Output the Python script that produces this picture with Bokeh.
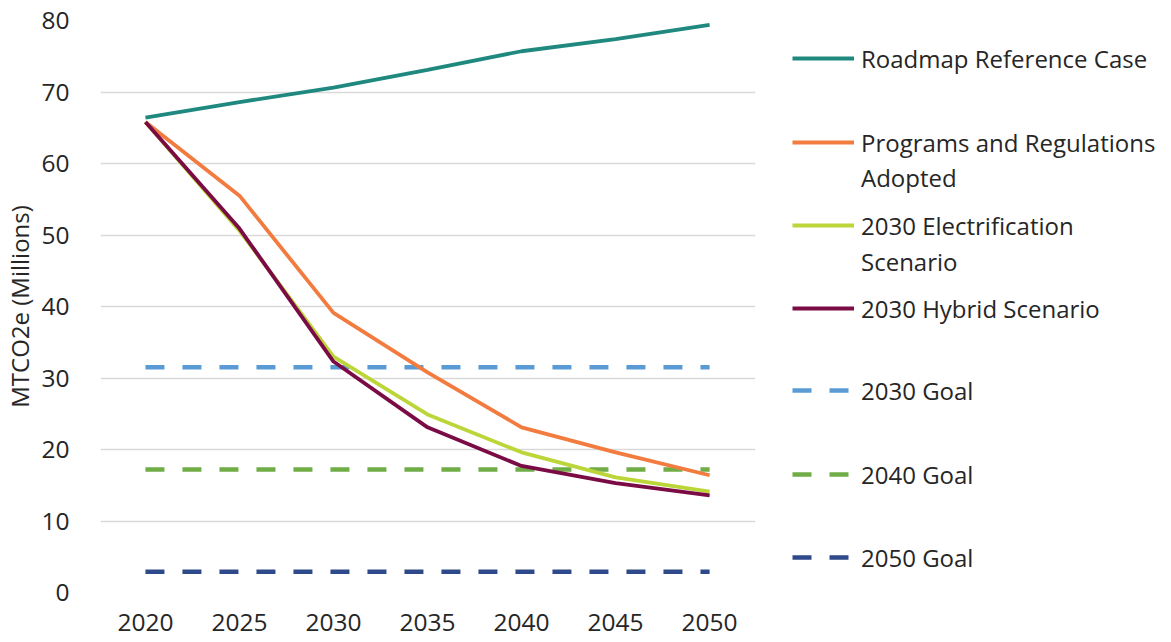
from bokeh.plotting import figure
from bokeh.layouts import row
from bokeh.models import Legend, LegendItem, Range1d, FixedTicker
from bokeh.embed import file_html
from bokeh.resources import INLINE

years = [2020, 2025, 2030, 2035, 2040, 2045, 2050]
reference_case = [66.4, 68.6, 70.6, 73.1, 75.7, 77.4, 79.4]
programs_adopted = [65.8, 55.5, 39.1, 30.8, 23.1, 19.6, 16.4]
electrification = [65.8, 50.6, 33.0, 24.9, 19.6, 16.1, 14.1]
hybrid = [65.8, 50.9, 32.3, 23.1, 17.7, 15.3, 13.6]
goal_2030 = [31.5, 31.5, 31.5, 31.5, 31.5, 31.5, 31.5]
goal_2040 = [17.2, 17.2, 17.2, 17.2, 17.2, 17.2, 17.2]
goal_2050 = [2.9, 2.9, 2.9, 2.9, 2.9, 2.9, 2.9]
y_ticks = [0, 10, 20, 30, 40, 50, 60, 70, 80]

FONT = "Open Sans"
TXT = "#262626"
FS = "24.5px"
H = 641

series = {
    "ref": (reference_case, dict(line_color="#20897F", line_width=3.8)),
    "prog": (programs_adopted, dict(line_color="#F27C3F", line_width=3.8)),
    "elec": (electrification, dict(line_color="#BCD63A", line_width=3.8)),
    "hyb": (hybrid, dict(line_color="#7A0B45", line_width=3.8)),
    "g30": (goal_2030, dict(line_color="#5B9BD5", line_width=4.5, line_dash="19 18")),
    "g40": (goal_2040, dict(line_color="#70AD47", line_width=4.5, line_dash="19 18")),
    "g50": (goal_2050, dict(line_color="#2F4A8A", line_width=4.5, line_dash="19 18")),
}
draw_order = ["g30", "g40", "g50", "ref", "prog", "elec", "hyb"]

p = figure(width=765, height=H, output_backend="svg", toolbar_location=None,
           x_range=Range1d(2017.61, 2052.44), y_range=Range1d(0, 80),
           min_border_left=99, min_border_right=10, min_border_top=20, min_border_bottom=49)
p.outline_line_color = None
p.border_fill_color = "white"

p.xaxis.ticker = FixedTicker(ticks=years)
p.yaxis.ticker = FixedTicker(ticks=y_ticks)
for ax in (p.xaxis, p.yaxis):
    ax.axis_line_color = None
    ax.major_tick_line_color = None
    ax.minor_tick_line_color = None
    ax.major_label_text_font = FONT
    ax.major_label_text_font_size = FS
    ax.major_label_text_color = TXT
p.xaxis.major_label_standoff = 15
p.yaxis.major_label_standoff = 25
p.yaxis.axis_label = "MTCO2e (Millions)"
p.yaxis.axis_label_text_font = FONT
p.yaxis.axis_label_text_font_size = "24px"
p.yaxis.axis_label_text_font_style = "normal"
p.yaxis.axis_label_text_color = TXT
p.yaxis.axis_label_standoff = 2

p.xgrid.grid_line_color = None
p.ygrid.grid_line_color = "#D9D9D9"
p.ygrid.grid_line_width = 1.5

for k in draw_order:
    vals, st = series[k]
    p.line(years, vals, **st)

# legend panel (its own lines lie outside its visible range; only legend glyphs show)
lp = figure(width=395, height=H, output_backend="svg", toolbar_location=None,
            x_axis_type=None, y_axis_type=None,
            x_range=Range1d(0, 1), y_range=Range1d(0, 1),
            min_border_left=0, min_border_right=0, min_border_top=0, min_border_bottom=0)
lp.outline_line_color = None
lp.xgrid.grid_line_color = None
lp.ygrid.grid_line_color = None
leg_r = {k: lp.line(years, vals, **st) for k, (vals, st) in series.items()}
leg_r["blank"] = lp.line(years, goal_2050, line_alpha=0)

# legend rows: (label, series key, row centre in page px from top)
rows = [
    ("Roadmap Reference Case", "ref", 59),
    ("Programs and Regulations", "prog", 143),
    ("Adopted", "blank", 178),
    ("2030 Electrification", "elec", 226),
    ("Scenario", "blank", 262),
    ("2030 Hybrid Scenario", "hyb", 309),
    ("2030 Goal", "g30", 391),
    ("2040 Goal", "g40", 475),
    ("2050 Goal", "g50", 558),
]
ROW_H = 34
SHIFT = 56
for label, key, yc in rows:
    lg = Legend(items=[LegendItem(label=label, renderers=[leg_r[key]])],
                location=(27, H - (yc - 8) - ROW_H // 2 - SHIFT))
    lg.margin = 0
    lg.padding = 0
    lg.border_line_alpha = 0
    lg.background_fill_alpha = 0
    lg.glyph_width = 62
    lg.glyph_height = ROW_H
    lg.label_height = ROW_H
    lg.label_standoff = 7
    lg.spacing = 0
    lg.label_text_font = FONT
    lg.label_text_font_size = "24px"
    lg.label_text_color = TXT
    lp.add_layout(lg)

open("out.html", "w").write(file_html(row(p, lp), INLINE))
